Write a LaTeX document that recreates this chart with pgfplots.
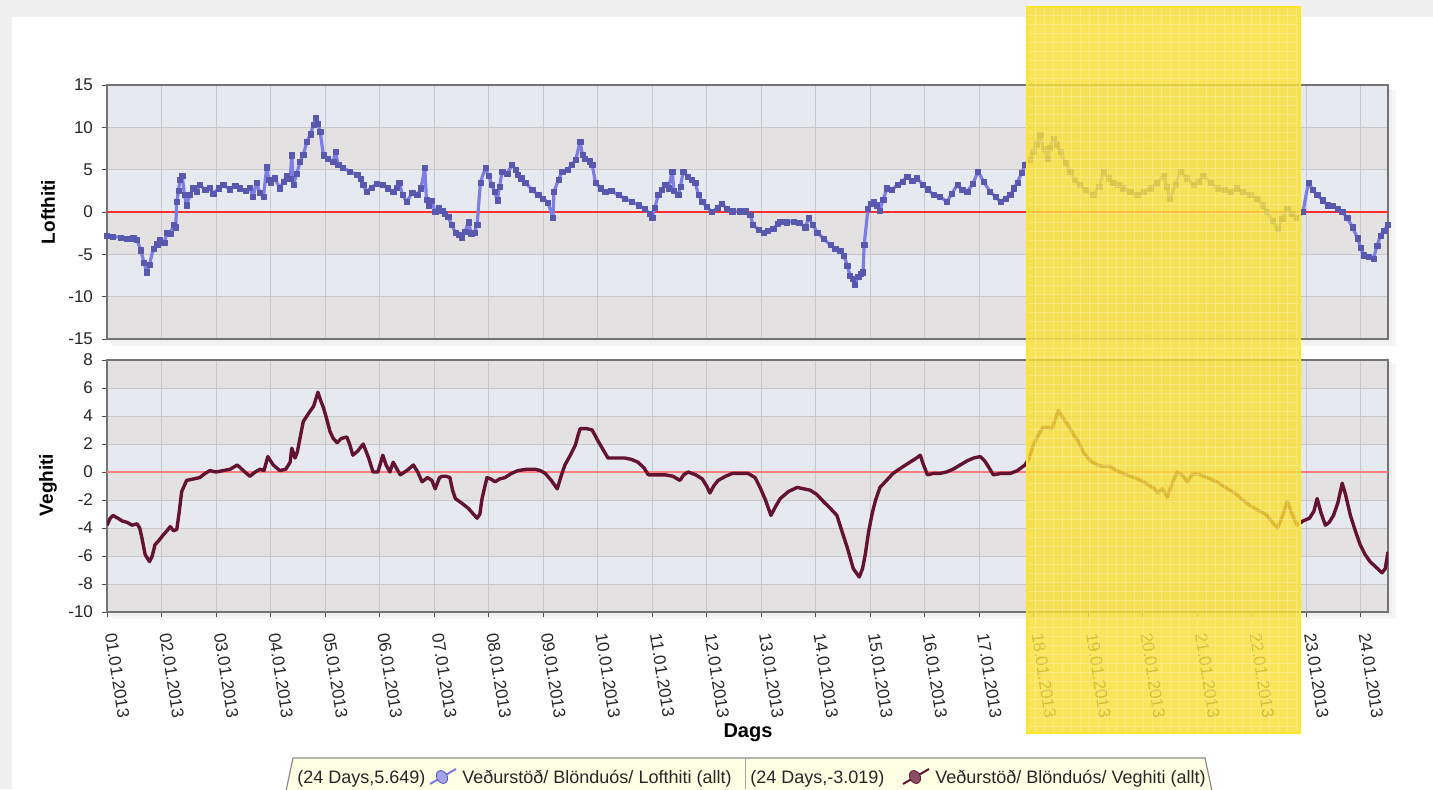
\documentclass[border=0pt]{standalone}
\usepackage{pgfplots}
\pgfplotsset{compat=1.18}
\usepackage{pgfplotstable}
\usepackage{fontspec}
\setmainfont{Liberation Sans}
\definecolor{bglight}{RGB}{230,234,240}
\definecolor{bgdark}{RGB}{227,225,226}
\definecolor{lofline}{RGB}{125,125,230}
\definecolor{lofmark}{RGB}{88,88,175}
\definecolor{vegline}{RGB}{100,18,50}
\definecolor{hiyel}{RGB}{249,224,52}
\definecolor{hiborder}{RGB}{255,228,40}
\definecolor{pagegray}{RGB}{240,240,240}
\definecolor{legfill}{RGB}{255,255,228}
\definecolor{gridc}{RGB}{200,200,204}
\definecolor{zeroA}{RGB}{255,45,45}
\definecolor{zeroB}{RGB}{255,125,125}

\pgfplotstableread{
x y
0 -2.8
0.1 -2.9
0.25 -3.0
0.37 -3.2
0.48 -3.1
0.55 -3.3
0.62 -4.5
0.68 -6.0
0.73 -7.1
0.78 -6.2
0.85 -4.3
0.92 -3.8
0.97 -3.3
1.05 -3.6
1.1 -2.4
1.16 -2.6
1.22 -1.5
1.26 -1.8
1.28 1.2
1.31 2.5
1.34 3.8
1.38 4.3
1.42 2.0
1.46 0.8
1.52 2.0
1.58 2.8
1.64 2.4
1.7 3.2
1.8 2.6
1.88 2.9
1.95 2.2
2.05 2.8
2.13 3.2
2.25 2.7
2.35 3.1
2.44 2.8
2.55 2.5
2.62 2.9
2.68 1.8
2.74 3.5
2.8 2.3
2.87 1.8
2.93 5.3
2.97 3.8
3.0 3.5
3.08 4.0
3.17 2.8
3.24 3.6
3.3 4.3
3.36 3.9
3.39 6.7
3.42 3.2
3.48 4.5
3.54 5.9
3.6 6.8
3.67 8.3
3.73 9.2
3.79 10.3
3.83 11.1
3.87 10.4
3.91 9.5
3.97 6.7
4.05 6.3
4.15 5.9
4.19 7.1
4.24 5.6
4.33 5.2
4.45 4.8
4.59 4.4
4.65 3.9
4.7 3.2
4.76 2.4
4.85 2.9
4.95 3.3
5.06 3.2
5.15 2.8
5.25 2.4
5.32 2.9
5.36 3.5
5.42 2.0
5.5 1.2
5.6 2.3
5.69 2.0
5.76 2.8
5.83 5.2
5.86 1.5
5.9 0.8
5.96 1.3
6.02 0
6.08 0.5
6.15 0.2
6.2 -0.2
6.26 -0.6
6.32 -1.5
6.39 -2.4
6.45 -2.7
6.51 -3.0
6.57 -2.3
6.63 -1.2
6.68 -2.5
6.74 -2.4
6.79 -1.5
6.85 3.5
6.94 5.2
7.0 4.3
7.06 3.2
7.11 2.4
7.16 1.4
7.2 3.0
7.25 4.8
7.34 4.5
7.43 5.6
7.5 5.0
7.54 4.4
7.6 4.0
7.67 3.5
7.8 2.6
7.91 2.0
8.0 1.6
8.09 1.1
8.18 -0.7
8.2 2.4
8.28 3.8
8.35 4.8
8.45 5.0
8.53 5.6
8.6 6.2
8.68 8.3
8.72 6.8
8.77 6.3
8.85 6.0
8.9 5.6
8.96 3.5
9.05 2.8
9.14 2.4
9.25 2.5
9.38 2.0
9.5 1.6
9.63 1.2
9.75 0.8
9.87 0.4
9.95 -0.2
10.0 -0.7
10.05 0.5
10.11 2.0
10.18 2.6
10.24 3.2
10.3 2.8
10.37 4.8
10.4 2.5
10.48 2.0
10.52 3.0
10.57 4.8
10.65 4.2
10.72 3.8
10.79 3.5
10.85 2.0
10.92 1.2
11.0 0.6
11.1 0
11.2 0.5
11.28 1.0
11.37 0.4
11.47 0.1
11.6 0.1
11.71 0.1
11.8 -0.3
11.85 -1.5
11.95 -2.1
12.04 -2.4
12.12 -2.2
12.22 -2.0
12.3 -1.4
12.35 -1.1
12.47 -1.2
12.59 -1.1
12.7 -1.3
12.81 -1.8
12.87 -0.7
12.95 -1.5
13.03 -2.4
13.15 -3.2
13.27 -3.9
13.36 -4.3
13.45 -4.6
13.52 -5.2
13.58 -6.3
13.63 -7.5
13.68 -7.9
13.72 -8.6
13.78 -7.6
13.83 -7.3
13.87 -7.1
13.89 -3.9
13.96 0.4
14.02 1.0
14.06 1.2
14.12 0.8
14.18 0.2
14.24 1.5
14.31 2.8
14.4 2.6
14.5 3.2
14.59 3.6
14.68 4.2
14.77 3.7
14.86 4.0
14.97 3.2
15.06 2.7
15.16 2.0
15.28 1.8
15.41 1.2
15.5 2.2
15.6 3.2
15.69 2.6
15.78 2.4
15.88 3.3
15.98 4.8
16.08 3.6
16.2 2.4
16.3 1.8
16.39 1.2
16.48 1.6
16.57 2.0
16.64 2.8
16.7 3.5
16.78 4.6
16.84 5.6
16.92 6.2
16.99 7.1
17.06 8.0
17.12 9.1
17.18 7.5
17.25 6.3
17.3 7.6
17.36 8.7
17.42 8.0
17.49 7.1
17.58 5.8
17.67 4.8
17.75 3.8
17.85 3.2
17.95 2.6
18.09 2.0
18.2 3.0
18.28 4.8
18.37 4.0
18.46 3.5
18.55 3.2
18.64 2.8
18.77 2.4
18.9 2.0
19.02 2.4
19.14 2.8
19.26 3.4
19.38 4.3
19.44 3.0
19.5 1.6
19.6 3.2
19.69 4.8
19.8 4.0
19.93 3.2
20.02 3.6
20.11 4.3
20.24 3.5
20.37 2.8
20.5 2.6
20.61 2.4
20.72 2.8
20.84 2.4
20.97 2.0
21.1 1.6
21.2 0.8
21.28 0
21.38 -1.0
21.47 -2.0
21.56 -0.8
21.65 0.4
21.74 -0.2
21.83 -0.7
21.94 0
22.04 3.5
22.12 2.6
22.2 2.0
22.3 1.4
22.39 0.8
22.48 0.7
22.57 0.4
22.66 0.0
22.75 -0.7
22.85 -1.8
22.94 -3.1
23.0 -4.2
23.05 -5.1
23.14 -5.3
23.23 -5.5
23.3 -4.0
23.36 -2.8
23.43 -2.2
23.5 -1.5
}\lofthiti

\pgfplotstableread{
x y
0 -3.8
0.06 -3.3
0.11 -3.1
0.2 -3.3
0.28 -3.5
0.37 -3.6
0.46 -3.8
0.55 -3.7
0.6 -4.0
0.64 -4.7
0.7 -5.9
0.78 -6.4
0.83 -6.0
0.88 -5.2
0.95 -4.9
1.03 -4.5
1.1 -4.2
1.16 -3.9
1.22 -4.2
1.28 -4.1
1.32 -3.0
1.37 -1.4
1.46 -0.6
1.58 -0.5
1.7 -0.4
1.8 -0.1
1.89 0.1
2.0 0.0
2.13 0.1
2.26 0.2
2.39 0.5
2.5 0.1
2.62 -0.3
2.72 0.0
2.81 0.2
2.88 0.1
2.95 1.1
3.05 0.5
3.17 0.1
3.28 0.2
3.36 0.7
3.39 1.7
3.45 1.0
3.49 1.4
3.55 2.6
3.6 3.6
3.7 4.2
3.79 4.7
3.87 5.7
3.92 5.1
3.97 4.6
4.03 3.8
4.09 2.9
4.15 2.4
4.22 2.1
4.3 2.4
4.4 2.5
4.45 2.0
4.51 1.2
4.6 1.5
4.7 2.0
4.8 1.0
4.88 0
4.97 0.0
5.06 1.2
5.12 0.5
5.19 0
5.25 0.7
5.32 0.2
5.38 -0.2
5.5 0.1
5.62 0.5
5.7 0.0
5.78 -0.7
5.88 -0.4
5.96 -0.6
6.02 -1.2
6.1 -0.4
6.15 -0.3
6.22 -0.3
6.29 -0.4
6.34 -1.3
6.39 -1.9
6.5 -2.2
6.63 -2.6
6.72 -3.0
6.79 -3.3
6.84 -3.0
6.88 -1.9
6.97 -0.4
7.04 -0.5
7.12 -0.7
7.2 -0.5
7.3 -0.4
7.42 -0.1
7.54 0.1
7.7 0.2
7.85 0.2
7.95 0.1
8.04 -0.1
8.15 -0.6
8.26 -1.2
8.33 -0.3
8.4 0.5
8.5 1.2
8.59 1.9
8.64 2.6
8.68 3.1
8.8 3.1
8.9 3.0
9.01 2.2
9.1 1.6
9.19 1.0
9.35 1.0
9.5 1.0
9.62 0.9
9.74 0.7
9.85 0.3
9.93 -0.2
10.08 -0.2
10.24 -0.2
10.38 -0.3
10.51 -0.6
10.58 -0.2
10.66 0
10.8 -0.2
10.92 -0.5
11.0 -1.0
11.06 -1.5
11.13 -1.0
11.21 -0.6
11.35 -0.3
11.47 -0.1
11.62 -0.1
11.76 -0.1
11.89 -0.4
11.98 -1.1
12.08 -2.0
12.18 -3.1
12.26 -2.5
12.35 -1.9
12.5 -1.4
12.66 -1.1
12.78 -1.2
12.9 -1.3
13.02 -1.6
13.14 -2.1
13.27 -2.6
13.39 -3.1
13.48 -4.2
13.58 -5.4
13.69 -6.9
13.8 -7.5
13.86 -6.9
13.91 -5.9
13.97 -4.3
14.04 -2.9
14.1 -2.0
14.18 -1.1
14.3 -0.6
14.42 -0.1
14.57 0.3
14.73 0.7
14.85 1.0
14.92 1.2
14.97 0.6
15.05 -0.2
15.16 -0.1
15.28 -0.1
15.4 0.0
15.52 0.2
15.65 0.5
15.78 0.8
15.9 1.0
16.02 1.1
16.1 0.8
16.15 0.5
16.26 -0.2
16.4 -0.1
16.57 -0.1
16.7 0.1
16.84 0.5
16.92 1.0
16.99 1.9
17.08 2.6
17.17 3.2
17.26 3.2
17.34 3.1
17.4 3.8
17.45 4.4
17.55 3.8
17.67 3.1
17.74 2.6
17.82 2.2
17.91 1.4
18.04 0.8
18.17 0.5
18.28 0.4
18.4 0.4
18.52 0.1
18.64 -0.1
18.77 -0.3
18.9 -0.5
19.02 -0.7
19.14 -1.0
19.22 -1.2
19.27 -1.5
19.36 -1.2
19.45 -1.8
19.54 -0.8
19.63 0
19.72 -0.2
19.82 -0.7
19.9 -0.2
20.0 -0.1
20.12 -0.3
20.24 -0.5
20.36 -0.7
20.48 -1.0
20.6 -1.3
20.72 -1.6
20.84 -2.0
20.97 -2.4
21.1 -2.7
21.2 -2.9
21.28 -3.1
21.38 -3.6
21.47 -4.0
21.56 -3.2
21.65 -2.1
21.74 -3.0
21.83 -3.8
21.94 -3.5
22.06 -3.3
22.14 -2.8
22.2 -1.9
22.27 -2.9
22.35 -3.8
22.42 -3.6
22.5 -3.1
22.58 -2.2
22.66 -0.8
22.72 -1.6
22.81 -3.1
22.9 -4.2
22.99 -5.2
23.08 -5.9
23.17 -6.4
23.28 -6.8
23.39 -7.2
23.45 -6.9
23.5 -5.7
}\veghiti

\pgfplotsset{
  chartbase/.style={
    scale only axis,
    width=640.5pt,
    xmin=0, xmax=23.5,
    xtick={0,...,23},
    grid=major,
    grid style={gridc, line width=0.5pt},
    axis line style={black!55, line width=0.7pt},
    tick align=outside,
    major tick length=2.5pt,
    tick style={black!70, line width=0.5pt},
    xtick pos=bottom, ytick pos=left,
    /pgf/number format/assume math mode=true,
    yticklabel style={font=\fontsize{8.5}{9}\selectfont, text=black!85, xshift=-1pt},
  }
}

\begin{document}
\begin{tikzpicture}[x=1pt,y=1pt]
\useasboundingbox (0,0) rectangle (716.5,394.5);
\clip (0,0) rectangle (716.5,394.5);
\fill[pagegray] (0,0) rectangle (716.5,394.5);
\fill[white] (6,0) rectangle (716.5,386);
% soft shadows
\fill[black!4] (56,221.5) rectangle (698,349);
\fill[black!6] (55,223) rectangle (696,350);
\fill[black!4] (56,85) rectangle (698,212.5);
\fill[black!6] (55,86.5) rectangle (696,213.5);
% background bands (top panel: 30 units over 127pt, bottom: 18 units over 126pt)
\foreach \i in {0,...,5}{%
  \ifodd\i \fill[bglight] (53.5,{225+\i*21.1667}) rectangle (694,{225+(\i+1)*21.1667});%
  \else \fill[bgdark] (53.5,{225+\i*21.1667}) rectangle (694,{225+(\i+1)*21.1667});\fi}
\foreach \i in {0,...,8}{%
  \ifodd\i \fill[bglight] (53.5,{88.5+\i*14}) rectangle (694,{88.5+(\i+1)*14});%
  \else \fill[bgdark] (53.5,{88.5+\i*14}) rectangle (694,{88.5+(\i+1)*14});\fi}

% top panel
\begin{axis}[chartbase, at={(53.5pt,225pt)}, anchor=south west,
  height=127pt, ymin=-15, ymax=15, ytick={-15,-10,...,15},
  xticklabels={}, xtick style={draw=none}]
\addplot[zeroA, line width=1pt, forget plot] coordinates {(0,0) (23.5,0)};
\addplot[lofline, line width=1.6pt, line join=round,
  mark=square*, mark size=1.3pt, mark options={fill=lofmark, draw=lofmark, line width=0.2pt}]
  table[x=x, y=y] {\lofthiti};
\end{axis}

% bottom panel
\begin{axis}[chartbase, at={(53.5pt,88.5pt)}, anchor=south west,
  height=126pt, ymin=-10, ymax=8, ytick={-10,-8,...,8},
  xticklabels={01.01.2013,02.01.2013,03.01.2013,04.01.2013,05.01.2013,06.01.2013,07.01.2013,08.01.2013,09.01.2013,10.01.2013,11.01.2013,12.01.2013,13.01.2013,14.01.2013,15.01.2013,16.01.2013,17.01.2013,18.01.2013,19.01.2013,20.01.2013,21.01.2013,22.01.2013,23.01.2013,24.01.2013},
  xticklabel style={rotate=-81, anchor=west, font=\fontsize{8.5}{9}\selectfont, text=black!85, xshift=5pt, yshift=0.5pt}]
\addplot[zeroB, line width=0.6pt, forget plot] coordinates {(0,0) (23.5,0)};
\addplot[vegline, line width=1.7pt, line join=round] table[x=x, y=y] {\veghiti};
\end{axis}

% axis titles
\node[rotate=90, font=\bfseries\fontsize{9.5}{10}\selectfont] at (24,288.5) {Lofthiti};
\node[rotate=90, font=\bfseries\fontsize{9.5}{10}\selectfont] at (24,152) {Veghiti};
\node[font=\bfseries\fontsize{10}{11}\selectfont] at (374,28) {Dags};

% highlight rectangle
\fill[hiyel, opacity=0.82] (513.5,28) rectangle (650,391);
\begin{scope}
\clip (513.5,28) rectangle (650,391);
\draw[white, opacity=0.25, line width=0.35pt] (513.5,28) grid[step=4.5] (650,391);
\end{scope}
\draw[hiborder, line width=0.8pt] (513.5,28) rectangle (650,391);

% legend strip
\filldraw[fill=legfill, draw=black!45, line width=0.6pt] (143,-1) -- (146.5,15.5) -- (602.5,15.5) -- (606,-1);
\draw[black!35, line width=0.5pt] (372.5,0) -- (372.5,15.5);
\begin{scope}[every node/.style={anchor=base west, inner sep=0pt, font=\fontsize{9}{10}\selectfont, text=black!85}]
\node at (148.5,3) {(24 Days,5.649)};
\node at (231,3) {Veðurstöð/ Blönduós/ Lofthiti (allt)};
\node at (375,3) {(24 Days,-3.019)};
\node at (467.5,3) {Veðurstöð/ Blönduós/ Veghiti (allt)};
\end{scope}
\draw[lofline, line width=1pt] (215,2.5) -- (228,10);
\filldraw[fill=lofline!70!white, draw=lofmark, line width=0.4pt, rotate around={30:(221,6)}] (221,6) ellipse (2.6pt and 3.4pt);
\draw[vegline, line width=1pt] (451.5,2.5) -- (464.5,10);
\filldraw[fill=vegline!75!white, draw=vegline, line width=0.4pt, rotate around={30:(457.5,6)}] (457.5,6) ellipse (2.6pt and 3.4pt);
\end{tikzpicture}
\end{document}
